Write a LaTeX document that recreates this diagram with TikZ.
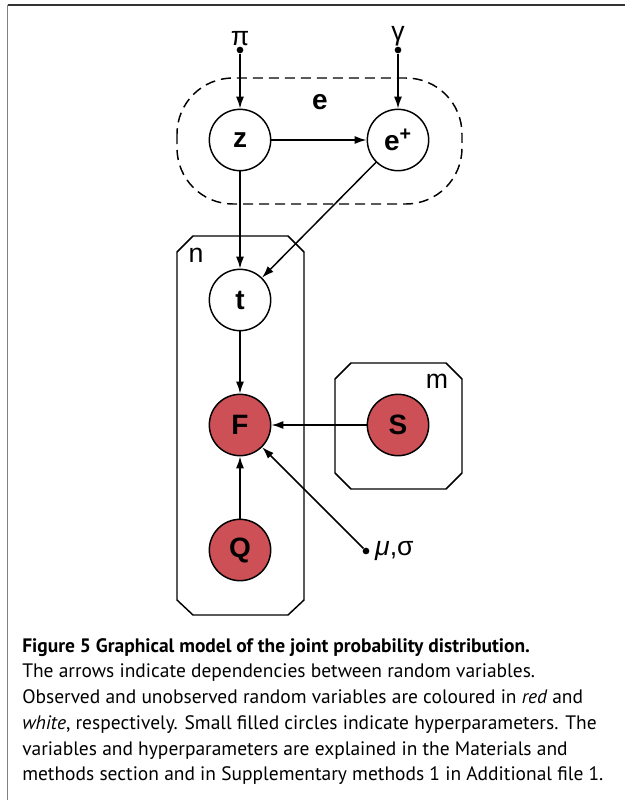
\documentclass[tikz,border=0pt]{standalone}
\usepackage{fontspec}
\setmainfont{Liberation Sans}
\newfontfamily\capfont{PT Sans}
\usetikzlibrary{arrows.meta}
\definecolor{obsred}{RGB}{205,80,86}
\tikzset{
  latent/.style={circle, draw, line width=1.1pt, fill=white, minimum size=46pt, inner sep=0pt, font=\fontsize{21}{21}\selectfont\bfseries},
  observed/.style={latent, fill=obsred},
  hyper/.style={circle, fill=black, inner sep=0pt, minimum size=5pt},
  dep/.style={-{Latex[length=9pt,width=6pt]}, line width=1.1pt},
  plate/.style={line width=1.1pt},
  lab/.style={font=\fontsize{20}{20}\selectfont},
}
\begin{document}
\begin{tikzpicture}[x=0.75pt,y=-0.75pt]
  \useasboundingbox (0,0) rectangle (625,800);
  % frame
  \draw[line width=1.3pt, black!80] (7.5,5) -- (625,5);
  \draw[line width=1.3pt, black!50] (7.5,800) -- (7.5,5);
  % plates
  \draw[dashed, dash pattern=on 7.5pt off 4.5pt, line width=1.1pt, rounded corners=42pt] (177,78) rectangle (462,204);
  \node[lab, font=\fontsize{21}{21}\selectfont\bfseries] (elab) at (320,102) {e};
  \draw[plate] (177,252) -- (193,236) -- (288,236) -- (304,252) -- (304,600) -- (288,615) -- (193,615) -- (177,600) -- cycle;
  \node[lab] (nlab) at (196,255) {n};
  \draw[plate] (335,379) -- (351,363) -- (446,363) -- (462,379) -- (462,473) -- (446,489) -- (351,489) -- (335,473) -- cycle;
  \node[lab] (mlab) at (437,381) {m};
  % variables
  \node[latent] (z) at (240,140) {z};
  \node[latent] (ep) at (398,140) {e\textsuperscript{+}};
  \node[latent] (t) at (240,300) {t};
  \node[observed] (F) at (240,425) {F};
  \node[observed] (S) at (398,425) {S};
  \node[observed] (Q) at (240,550) {Q};
  % hyperparameters
  \node[hyper, label={[lab, inner sep=0pt]above:π}] (pi) at (240,50) {};
  \node[hyper, label={[lab, inner sep=0pt]above:γ}] (gam) at (398,50) {};
  \node[hyper, label={[lab, inner sep=4pt]right:{\itshape μ},σ}] (musig) at (366,551) {};
  % dependencies
  \draw[dep] (pi) -- (z);
  \draw[dep] (gam) -- (ep);
  \draw[dep] (z) -- (ep);
  \draw[dep] (z) -- (t);
  \draw[dep] (ep) -- (t);
  \draw[dep] (t) -- (F);
  \draw[dep] (S) -- (F);
  \draw[dep] (Q) -- (F);
  \draw[dep] (musig) -- (F);
  % caption
  \node[anchor=north west, align=left, inner sep=0pt, font=\capfont\fontsize{14.6}{19.3}\selectfont] (cap) at (22,638)
    {{\bfseries Figure 5 Graphical model of the joint probability distribution.}\\
     The arrows indicate dependencies between random variables.\\
     Observed and unobserved random variables are coloured in {\itshape red} and\\
     {\itshape white}, respectively. Small filled circles indicate hyperparameters. The\\
     variables and hyperparameters are explained in the Materials and\\
     methods section and in Supplementary methods 1 in Additional file 1.};
\end{tikzpicture}
\end{document}
